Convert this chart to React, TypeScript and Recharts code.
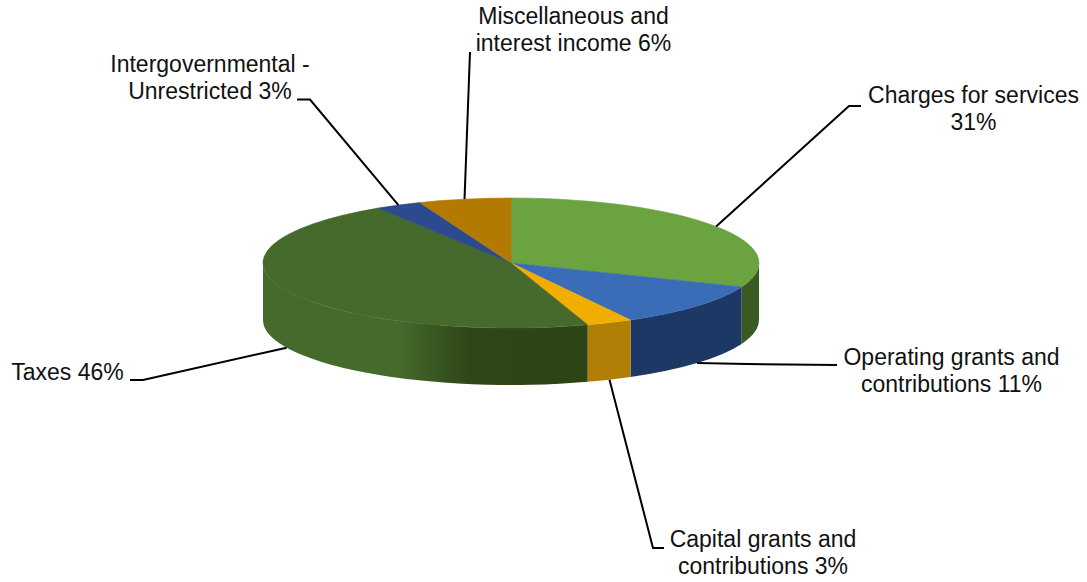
import React from 'react';
import { PieChart, Pie } from 'recharts';

const CATEGORIES = [
  'Charges for services',
  'Operating grants and contributions',
  'Capital grants and contributions',
  'Taxes',
  'Intergovernmental - Unrestricted',
  'Miscellaneous and interest income',
];
const VALUES = [31, 11, 3, 46, 3, 6];
const TOP_COLORS = ['#6aa340', '#3a6cb8', '#f2ae00', '#456a2b', '#2c4a8e', '#b27a00'];
const WALL_COLORS = ['#3b5a22', '#1d3864', '#b27f06', '#456a2b', '#1d3864', '#7a5300'];
const LABEL_LINES = [
  ['Charges for services', ''],
  ['Operating grants and', 'contributions '],
  ['Capital grants and', 'contributions '],
  ['Taxes '],
  ['Intergovernmental -', 'Unrestricted '],
  ['Miscellaneous and', 'interest income '],
];

const WIDTH = 1087;
const HEIGHT = 582;
const CX = 511;
const CY = 263;
const RX = 248;
const RY = 65;
const DEPTH = 57;
const FONT_SIZE = 23;
const LINE_HEIGHT = 27;

// where each callout text sits and how its leader bends on the way there
const CALLOUTS = [
  { x: 973.5, y: 103, path: [[849, 106], [861, 106]] },
  { x: 951.5, y: 365, path: [[747, 364], [837, 365]] },
  { x: 763, y: 547, path: [[653, 548], [664, 548]] },
  { x: 67.5, y: 380, path: [[143, 380], [130, 380]] },
  { x: 210, y: 72, path: [[310, 99.5], [297, 99.5]] },
  { x: 573.5, y: 24, path: [[470, 52]] },
];

const data = CATEGORIES.map((name, i) => ({ name, value: VALUES[i] }));

const rad = (deg: number) => (deg * Math.PI) / 180;
const px = (deg: number) => CX + RX * Math.cos(rad(deg));
const py = (deg: number) => CY - RY * Math.sin(rad(deg));

// top face plus the part of the rim that faces the viewer
const Slice3D = (props: any) => {
  const { startAngle, endAngle, index } = props;
  const large = Math.abs(startAngle - endAngle) > 180 ? 1 : 0;
  const top = `M${CX},${CY} L${px(startAngle)},${py(startAngle)} A${RX},${RY} 0 ${large} 1 ${px(endAngle)},${py(endAngle)} Z`;

  // the rim is only visible between 0 and -180 degrees
  const wallFrom = Math.min(startAngle, 0);
  const wallTo = Math.max(endAngle, -180);
  const hasWall = wallFrom > wallTo;
  const wall = hasWall
    ? `M${px(wallFrom)},${py(wallFrom)} A${RX},${RY} 0 0 1 ${px(wallTo)},${py(wallTo)} L${px(wallTo)},${py(wallTo) + DEPTH} A${RX},${RY} 0 0 0 ${px(wallFrom)},${py(wallFrom) + DEPTH} Z`
    : '';
  const isTaxes = index === 3;

  return (
    <g>
      {isTaxes && (
        <defs>
          <linearGradient id="taxesWall" gradientUnits="userSpaceOnUse" x1={263} y1={0} x2={594} y2={0}>
            <stop offset="0%" stopColor="#456a2b" />
            <stop offset="41%" stopColor="#456a2b" />
            <stop offset="62%" stopColor="#2e4718" />
            <stop offset="100%" stopColor="#2c4416" />
          </linearGradient>
        </defs>
      )}
      {hasWall && <path d={wall} fill={isTaxes ? 'url(#taxesWall)' : WALL_COLORS[index]} />}
      {/* thin same-colour stroke closes the hairline seam against the rim */}
      <path d={top} fill={TOP_COLORS[index]} stroke={TOP_COLORS[index]} strokeWidth={0.6} />
    </g>
  );
};

// leader starts on the slice's mid angle, on the rim's lower edge for front slices
const Callout = (props: any) => {
  const { midAngle, index, value } = props;
  const layout = CALLOUTS[index];
  const onFront = Math.sin(rad(midAngle)) < 0;
  const startX = px(midAngle);
  const startY = py(midAngle) + (onFront ? DEPTH : 0);
  const points = [[startX, startY], ...layout.path].map((p) => p.join(',')).join(' ');
  const lines = LABEL_LINES[index];

  return (
    <g>
      <polyline points={points} fill="none" stroke="#000" strokeWidth={2} />
      <text
        x={layout.x}
        y={layout.y}
        textAnchor="middle"
        fontFamily="Liberation Sans, Arial, sans-serif"
        fontSize={FONT_SIZE}
        fill="#111"
      >
        {lines.map((line, i) => (
          <tspan key={i} x={layout.x} y={layout.y + i * LINE_HEIGHT}>
            {i === lines.length - 1 ? (index === 0 ? `${value}%` : `${line}${value}%`) : line}
          </tspan>
        ))}
      </text>
    </g>
  );
};

export default function App() {
  return (
    <div style={{ position: 'absolute', left: 0, top: 0, width: WIDTH, height: HEIGHT, background: '#fff' }}>
      <PieChart width={WIDTH} height={HEIGHT} margin={{ top: 0, right: 0, bottom: 0, left: 0 }}>
        <Pie
          data={data}
          dataKey="value"
          nameKey="name"
          cx={CX}
          cy={CY}
          outerRadius={RX}
          startAngle={90}
          endAngle={-270}
          stroke="none"
          shape={Slice3D}
          label={Callout}
          labelLine={false}
          isAnimationActive={false}
        />
      </PieChart>
    </div>
  );
}
